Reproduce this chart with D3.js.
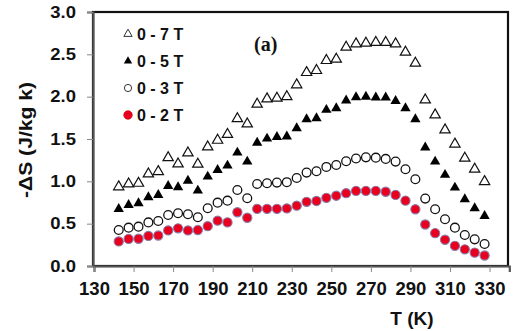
<!DOCTYPE html>
<html>
<head>
<meta charset="utf-8">
<script src="https://cdn.jsdelivr.net/npm/d3@7/dist/d3.min.js"></script>
<style>
  html, body { margin: 0; padding: 0; background: #fff; }
  svg { display: block; }
</style>
</head>
<body>
<svg id="chart" width="524" height="331"></svg>
<script>
// ---- data ----
const temps = [142.5,147.5,152.5,157.5,162.5,167.5,172.5,177.5,182.5,187.5,
               192.5,197.5,202.5,207.5,212.5,217.5,222.5,227.5,232.5,237.5,
               242.5,247.5,252.5,257.5,262.5,267.5,272.5,277.5,282.5,287.5,
               292.5,297.5,302.5,307.5,312.5,317.5,322.5,327.5];
const s7T = [0.935,0.969,0.977,1.087,1.115,1.28,1.206,1.335,1.202,1.406,
             1.485,1.554,1.74,1.678,1.911,1.974,1.982,2.0,2.14,2.285,
             2.309,2.427,2.443,2.585,2.624,2.632,2.64,2.64,2.624,2.526,
             2.396,1.962,1.785,1.608,1.44,1.273,1.143,0.997];
const s5T = [0.674,0.721,0.741,0.812,0.839,0.946,0.93,1.008,0.89,1.056,
             1.135,1.186,1.339,1.233,1.456,1.505,1.523,1.53,1.628,1.734,
             1.746,1.844,1.864,1.954,1.994,2.0,1.99,1.99,1.95,1.864,
             1.734,1.40,1.233,1.076,0.926,0.788,0.682,0.591];
const s3T = [0.425,0.453,0.465,0.515,0.532,0.603,0.623,0.611,0.576,0.682,
             0.748,0.772,0.898,0.80,0.969,0.977,0.985,0.99,1.04,1.103,
             1.119,1.17,1.193,1.237,1.27,1.283,1.28,1.265,1.233,1.143,
             1.025,0.796,0.67,0.552,0.453,0.366,0.315,0.26];
const s2T = [0.29,0.32,0.322,0.355,0.36,0.42,0.445,0.42,0.425,0.47,
             0.535,0.515,0.635,0.57,0.675,0.675,0.675,0.68,0.712,0.758,
             0.768,0.805,0.83,0.86,0.887,0.887,0.887,0.877,0.84,0.772,
             0.67,0.49,0.388,0.31,0.238,0.197,0.158,0.124];
const seriesNames = ["0 - 7 T", "0 - 5 T", "0 - 3 T", "0 - 2 T"];
const xTicks = [130,150,170,190,210,230,250,270,290,310,330];
const yTicks = [0.0,0.5,1.0,1.5,2.0,2.5,3.0];

const SANS = "Arial, 'Liberation Sans', sans-serif";
const SERIF = "'Liberation Serif', 'Times New Roman', serif";

// ---- layout ----
const svg = d3.select("#chart");
const L = 93, R = 508, T = 12, B = 266;
const x = d3.scaleLinear().domain([130, 340]).range([L + 1, R + 1.3]);
const y = d3.scaleLinear().domain([0, 3]).range([B, T]);

// frame
svg.append("rect").attr("x", L).attr("y", T).attr("width", R - L).attr("height", B - T)
  .attr("fill", "none").attr("stroke", "#111").attr("stroke-width", 2.2);

// axes
const xAxis = svg.append("g").attr("transform", `translate(0,${B})`)
  .call(d3.axisBottom(x).tickValues(xTicks).tickSize(6).tickPadding(10).tickFormat(d3.format("d")));
const yAxis = svg.append("g").attr("transform", `translate(${L},0)`)
  .call(d3.axisLeft(y).tickValues(yTicks).tickSize(6).tickPadding(11).tickFormat(d3.format(".1f")));
[xAxis, yAxis].forEach(g => {
  g.select(".domain").attr("stroke", "#555").attr("stroke-width", 2.2);
  g.selectAll(".tick line").attr("stroke", "#888").attr("stroke-width", 1);
});
xAxis.selectAll("text").style("font-size", "18.5px").style("font-weight", "bold")
  .style("font-family", SANS).style("fill", "#111");
yAxis.selectAll("text").style("font-size", "16.5px").style("font-weight", "bold")
  .style("font-family", SANS).style("fill", "#111")
  .attr("transform", "scale(1.12,1)").each(function(){
    const t = d3.select(this); t.attr("x", (+t.attr("x")) / 1.12);
  });

// axis titles
svg.append("text").attr("x", 412).attr("y", 325).attr("text-anchor", "middle")
  .style("font-family", SANS).style("font-weight", "bold").style("font-size", "19px")
  .style("fill", "#111").text("T (K)");
svg.append("text").attr("transform", "translate(32,140) rotate(-90)")
  .attr("text-anchor", "middle")
  .style("font-family", SANS).style("font-weight", "bold").style("font-size", "18px")
  .style("fill", "#111")
  .attr("textLength", 116).attr("lengthAdjust", "spacingAndGlyphs")
  .text("-ΔS (J/kg k)");

// panel label
svg.append("text").attr("x", 254).attr("y", 51)
  .style("font-family", SERIF).style("font-weight", "bold").style("font-size", "20px")
  .style("fill", "#111").text("(a)");

// ---- marks ----
const tri = d3.symbol().type(d3.symbolTriangle).size(46);
const triSmall = d3.symbol().type(d3.symbolTriangle).size(30);
const plot = svg.append("g");

plot.selectAll(".t7").data(temps).enter().append("path")
  .attr("d", tri).attr("transform", (d, i) => `translate(${x(d)},${y(s7T[i])})`)
  .attr("fill", "#fff").attr("stroke", "#111").attr("stroke-width", 1.2);
plot.selectAll(".t5").data(temps).enter().append("path")
  .attr("d", tri).attr("transform", (d, i) => `translate(${x(d)},${y(s5T[i])})`)
  .attr("fill", "#000");
plot.selectAll(".c3").data(temps).enter().append("circle")
  .attr("cx", d => x(d)).attr("cy", (d, i) => y(s3T[i])).attr("r", 4.4)
  .attr("fill", "#fff").attr("stroke", "#111").attr("stroke-width", 1.3);
plot.selectAll(".c2").data(temps).enter().append("circle")
  .attr("cx", d => x(d)).attr("cy", (d, i) => y(s2T[i])).attr("r", 4.6)
  .attr("fill", "#e8001e").attr("stroke", "#8a7aa8").attr("stroke-width", 1.1);

// ---- legend ----
const legY = [34, 61, 88, 115];
const leg = svg.append("g");
seriesNames.forEach((name, i) => {
  const cy = legY[i], cx = 128;
  if (i === 0) leg.append("path").attr("d", triSmall).attr("transform", `translate(${cx},${cy})`)
    .attr("fill", "#fff").attr("stroke", "#333").attr("stroke-width", 1);
  if (i === 1) leg.append("path").attr("d", triSmall).attr("transform", `translate(${cx},${cy})`)
    .attr("fill", "#000");
  if (i === 2) leg.append("circle").attr("cx", cx).attr("cy", cy).attr("r", 3.6)
    .attr("fill", "#fff").attr("stroke", "#333").attr("stroke-width", 1);
  if (i === 3) leg.append("circle").attr("cx", cx).attr("cy", cy).attr("r", 4.2)
    .attr("fill", "#e8001e").attr("stroke", "#c00").attr("stroke-width", 0.8);
  leg.append("text").attr("x", 137).attr("y", cy + 5.8)
    .style("font-family", SANS).style("font-weight", "bold").style("font-size", "16px")
    .style("fill", "#111").text(name);
});
</script>
</body>
</html>
